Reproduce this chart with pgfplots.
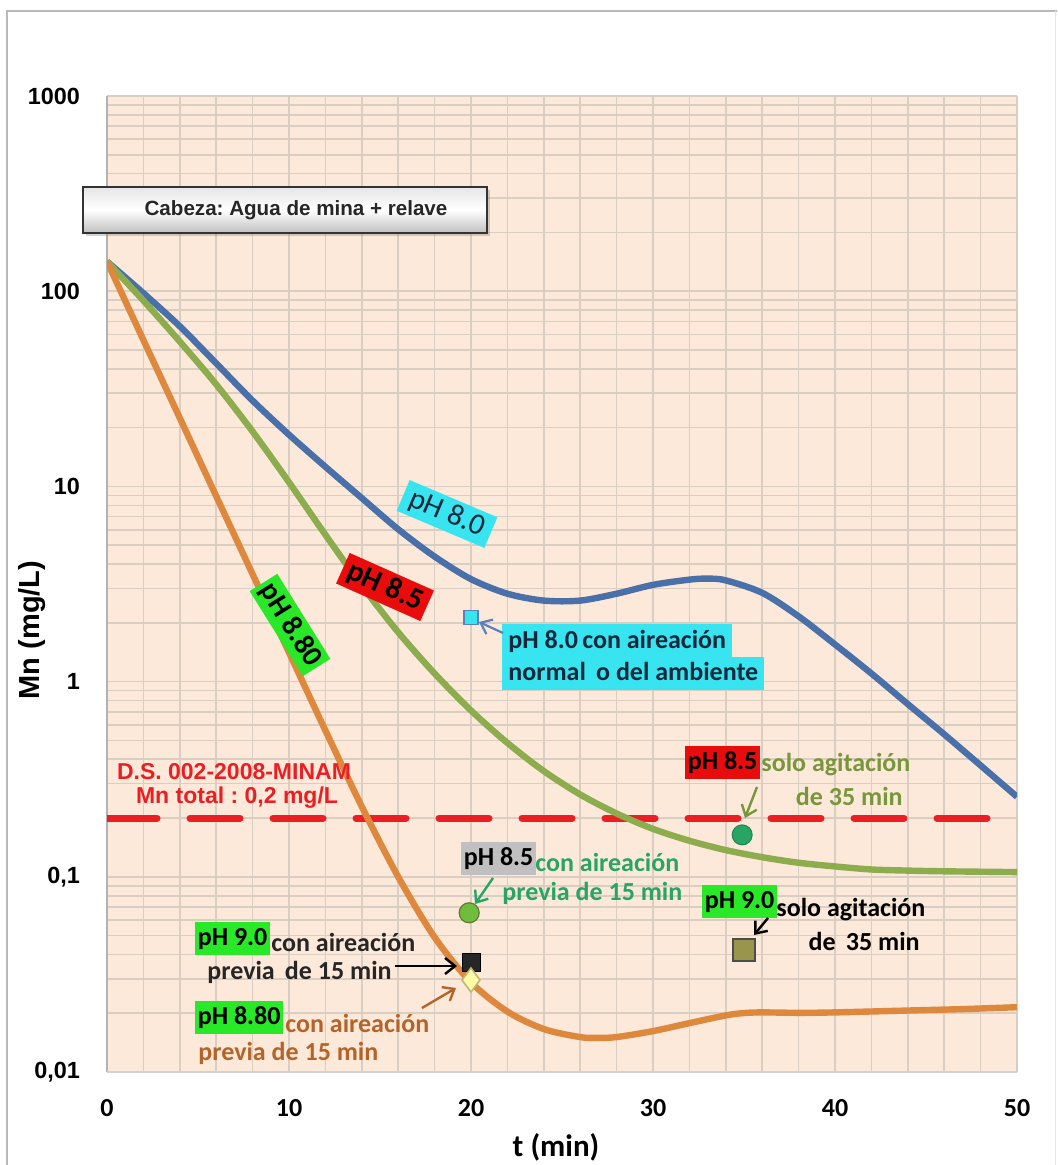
\documentclass[border=0pt]{standalone}
\usepackage{fontspec}
\setmainfont{Carlito}
\newfontfamily\arial{Liberation Sans}
\usepackage{pgfplots}
\pgfplotsset{compat=1.18}
\usetikzlibrary{arrows.meta,shadows}

\definecolor{bgc}{RGB}{253,233,217}
\definecolor{gridc}{RGB}{218,205,194}
\definecolor{blueC}{RGB}{74,112,170}
\definecolor{greenC}{RGB}{140,172,78}
\definecolor{orangeC}{RGB}{222,136,62}
\definecolor{limitC}{RGB}{235,30,35}
\definecolor{cyanC}{RGB}{55,228,240}
\definecolor{steelC}{RGB}{90,130,185}
\definecolor{redbox}{RGB}{232,12,12}
\definecolor{greenbox}{RGB}{40,232,40}
\definecolor{graybox}{RGB}{192,192,192}
\definecolor{oliveT}{RGB}{120,150,60}
\definecolor{tealT}{RGB}{40,165,100}
\definecolor{brownT}{RGB}{180,100,40}
\definecolor{navyT}{RGB}{20,40,60}

\newcommand\lab{\bfseries\fontsize{13}{15}\selectfont}

\begin{document}
\frenchspacing
\begin{tikzpicture}
\path[use as bounding box] (0,0) rectangle (528.5pt,582.5pt);
\draw[gray!55, line width=0.6pt] (3.5pt,0) -- (3.5pt,577pt) -- (528.5pt,577pt);
\draw[gray!20, line width=0.5pt] (527.8pt,0) -- (527.8pt,577pt);

\begin{axis}[
  at={(53.5pt,46.5pt)}, anchor=south west,
  scale only axis, width=455pt, height=488pt,
  ymode=log, xmin=0, xmax=50, ymin=0.01, ymax=1000,
  xtick={0,10,20,30,40,50}, xticklabels={0,10,20,30,40,50},
  minor x tick num=4,
  ytick={0.01,0.1,1,10,100,1000},
  yticklabels={{0,01},{0,1},1,10,100,1000},
  minor ytick={0.02,0.03,0.04,0.05,0.06,0.07,0.08,0.09,
               0.2,0.3,0.4,0.5,0.6,0.7,0.8,0.9,
               2,3,4,5,6,7,8,9,20,30,40,50,60,70,80,90,
               200,300,400,500,600,700,800,900},
  grid=both,
  major grid style={draw=gridc, line width=0.8pt},
  minor grid style={draw=gridc, line width=0.8pt},
  axis background/.style={fill=bgc},
  axis line style={draw=none},
  major tick length=0pt, minor tick length=0pt,
  xticklabel style={font=\bfseries\fontsize{13}{15}\selectfont, yshift=-10pt},
  yticklabel style={font=\arial\bfseries\fontsize{11.7}{14}\selectfont, xshift=-10pt},
  clip mode=individual,
]
\draw[gray!60, line width=0.8pt] (rel axis cs:0,0) -- (rel axis cs:0,1);
\draw[gray!35, line width=0.8pt] (rel axis cs:0,0) -- (rel axis cs:1,0);

% limite D.S. 002-2008-MINAM
\addplot[limitC, line width=3.5pt, line cap=round, dash pattern=on 25pt off 16.5pt]
  coordinates {(0,0.2) (50,0.2)};

% pH 8.0
\addplot[blueC, line width=3.2pt, smooth] coordinates {
 (0,141.9) (2,97.7) (4,66.1) (6,42.7) (8,27.5) (10,18.4) (12,12.6) (14,8.71) (16,6.03)
 (18,4.37) (20,3.35) (22,2.82) (24,2.60) (26,2.60) (28,2.82) (30,3.13) (32,3.33)
 (33,3.37) (34,3.30) (36,2.85) (38,2.16) (40,1.55) (42,1.10) (44,0.767) (46,0.537)
 (48,0.372) (50,0.257)};

% pH 8.5
\addplot[greenC, line width=3.2pt, smooth] coordinates {
 (0,141.9) (2,89.5) (4,55.2) (6,33.3) (8,19.1) (10,10.5) (12,5.65) (14,3.10) (16,1.79)
 (18,1.10) (20,0.711) (22,0.485) (24,0.348) (26,0.264) (28,0.211) (30,0.176) (32,0.153)
 (34,0.137) (36,0.126) (38,0.118) (40,0.113) (42,0.109) (44,0.1076) (46,0.1067) (50,0.1057)};

% pH 8.80
\addplot[orangeC, line width=3.2pt, smooth] coordinates {
 (0,141.9) (2,56.2) (4,22.4) (6,8.91) (8,3.55) (10,1.41) (12,0.562) (14,0.229) (16,0.1)
 (18,0.049) (20,0.0288) (22,0.0204) (24,0.0166) (26,0.0151) (27,0.01496) (28,0.0151)
 (30,0.0162) (32,0.0178) (34,0.0195) (35,0.02005) (36,0.0202) (38,0.0201) (40,0.0202)
 (44,0.02065) (47,0.0210) (50,0.02148)};

% puntos de ensayo
\addplot[only marks, mark=square*, mark size=3.5pt, mark options={fill=cyanC, draw=steelC, line width=0.6pt}]
  coordinates {(20,2.13)};
\addplot[only marks, mark=*, mark size=5pt, mark options={fill=greenC!80!green, draw=greenC!70!black, line width=0.6pt}]
  coordinates {(19.9,0.0654)};
\addplot[only marks, mark=square*, mark size=4.5pt, mark options={fill=black!85, draw=black}]
  coordinates {(20,0.0366)};
\addplot[only marks, mark=diamond*, mark size=6pt, mark options={fill=yellow!35, draw=yellow!40!gray, line width=0.8pt}]
  coordinates {(20,0.0296)};
\addplot[only marks, mark=*, mark size=5pt, mark options={fill=tealT, draw=tealT!80!black, line width=0.5pt}]
  coordinates {(34.9,0.164)};
\addplot[only marks, mark=square*, mark size=5.5pt, mark options={fill=olive!45!gray!90!yellow, draw=black!70, line width=0.8pt}]
  coordinates {(35,0.0423)};
\end{axis}

% textos (coordenadas en pixeles de la figura)
\begin{scope}[x=0.5pt, y=-0.5pt, shift={(0pt,582.5pt)}]
\node[draw=black!80, line width=0.8pt, top color=gray!20, bottom color=gray!50, middle color=white,
      minimum width=202pt, minimum height=23pt, inner sep=0pt,
      drop shadow={opacity=0.35, shadow xshift=1.5pt, shadow yshift=-1.5pt},
      font=\arial\bfseries\fontsize{10.3}{12}\selectfont, text=black!85]
  at (285,210) {\hspace*{11pt}Cabeza: Agua de mina + relave};

\node[fill=cyanC, rotate=-23, inner xsep=4pt, inner ysep=2pt, text=navyT,
      font=\fontsize{15}{18}\selectfont] at (447,514) {pH 8.0};
\node[fill=redbox, rotate=-24, inner xsep=3pt, inner ysep=2pt, text=black,
      font=\bfseries\fontsize{15}{18}\selectfont] at (385,587) {pH 8.5};
\node[fill=greenbox, rotate=-58, inner xsep=2pt, inner ysep=2pt, text=black,
      font=\bfseries\fontsize{14.5}{17}\selectfont] at (290,625) {pH 8.80};

% pH 8.0 con aireacion
\node[fill=cyanC, anchor=west, inner xsep=3pt, inner ysep=2.5pt, text height=9.5pt, text depth=3pt,
      text=navyT, font=\lab] at (502,642) {pH 8.0\,con aireación};
\node[fill=cyanC, anchor=west, inner xsep=3pt, inner ysep=2pt, text height=9.5pt, text depth=3pt,
      text=navyT, font=\lab] at (502,674) {normal\, o del ambiente};
\draw[steelC, line width=1.1pt, -{Straight Barb[length=5pt,width=8pt]}] (503,633) -- (479,622);

% limite
\node[text=limitC, font=\arial\bfseries\fontsize{11.5}{13}\selectfont] at (234,772) {D.S. 002-2008-MINAM};
\node[text=limitC, font=\arial\bfseries\fontsize{11.5}{13}\selectfont] at (237,798) {Mn total : 0,2 mg/L};

% pH 8.5 solo agitacion
\node[fill=redbox, anchor=west, inner xsep=1.2pt, inner ysep=2pt, text height=9.5pt, text depth=3pt,
      font=\lab] at (685,763) {pH 8.5};
\node[anchor=west, inner sep=0pt, text=oliveT, font=\lab] at (761,765) {solo agitación};
\node[anchor=east, inner sep=0pt, text=oliveT, font=\lab] at (903,796) {de 35 min};
\draw[oliveT, line width=1.2pt, -{Straight Barb[length=5pt,width=8pt]}] (757,787) -- (745,818);

% pH 8.5 con aireacion
\node[fill=graybox, anchor=west, inner xsep=1.2pt, inner ysep=2pt, text height=9.5pt, text depth=3pt,
      font=\lab] at (461,859) {pH 8.5};
\node[anchor=west, inner sep=0pt, text=tealT, font=\lab] at (535,862) {con aireación};
\node[anchor=west, inner sep=0pt, text=tealT, font=\lab] at (502,893) {previa de 15 min};
\draw[tealT, line width=1.2pt, -{Straight Barb[length=5pt,width=8pt]}] (493,878) -- (475,904);

% pH 9.0 solo agitacion
\node[fill=greenbox, anchor=west, inner xsep=1.2pt, inner ysep=2pt, text height=9.5pt, text depth=3pt,
      font=\lab] at (702,902) {pH 9.0};
\node[anchor=west, inner sep=0pt, text=black, font=\lab] at (776,910) {solo agitación};
\node[anchor=east, inner sep=0pt, text=black, font=\lab] at (920,941) {de\, 35 min};
\draw[black, line width=1.2pt, -{Straight Barb[length=5pt,width=8pt]}] (768,918) -- (754,935);

% pH 9.0 con aireacion
\node[fill=greenbox, anchor=west, inner xsep=1.2pt, inner ysep=2pt, text height=9.5pt, text depth=3pt,
      font=\lab] at (195,939) {pH 9.0};
\node[anchor=west, inner sep=0pt, text=black!85, font=\lab] at (271,942) {con aireación};
\node[anchor=west, inner sep=0pt, text=black!85, font=\lab] at (207,972) {previa\, de 15 min};
\draw[black, line width=1.2pt, -{Straight Barb[length=5pt,width=8pt]}] (395,966) -- (457,966);

% pH 8.80 con aireacion
\node[fill=greenbox, anchor=west, inner xsep=1.2pt, inner ysep=2pt, text height=9.5pt, text depth=3pt,
      font=\lab] at (195,1018) {pH 8.80};
\node[anchor=west, inner sep=0pt, text=brownT, font=\lab] at (285,1023) {con aireación};
\node[anchor=west, inner sep=0pt, text=brownT, font=\lab] at (198,1053) {previa de 15 min};
\draw[brownT, line width=1.2pt, -{Straight Barb[length=5pt,width=8pt]}] (422,1008) -- (456,988);

% titulos de ejes
\node[font=\bfseries\fontsize{15.5}{18}\selectfont] at (556,1147) {t (min)};
\node[rotate=90, font=\arial\bfseries\fontsize{14.5}{17}\selectfont] at (32,630) {Mn (mg/L)};
\end{scope}
\end{tikzpicture}
\end{document}
